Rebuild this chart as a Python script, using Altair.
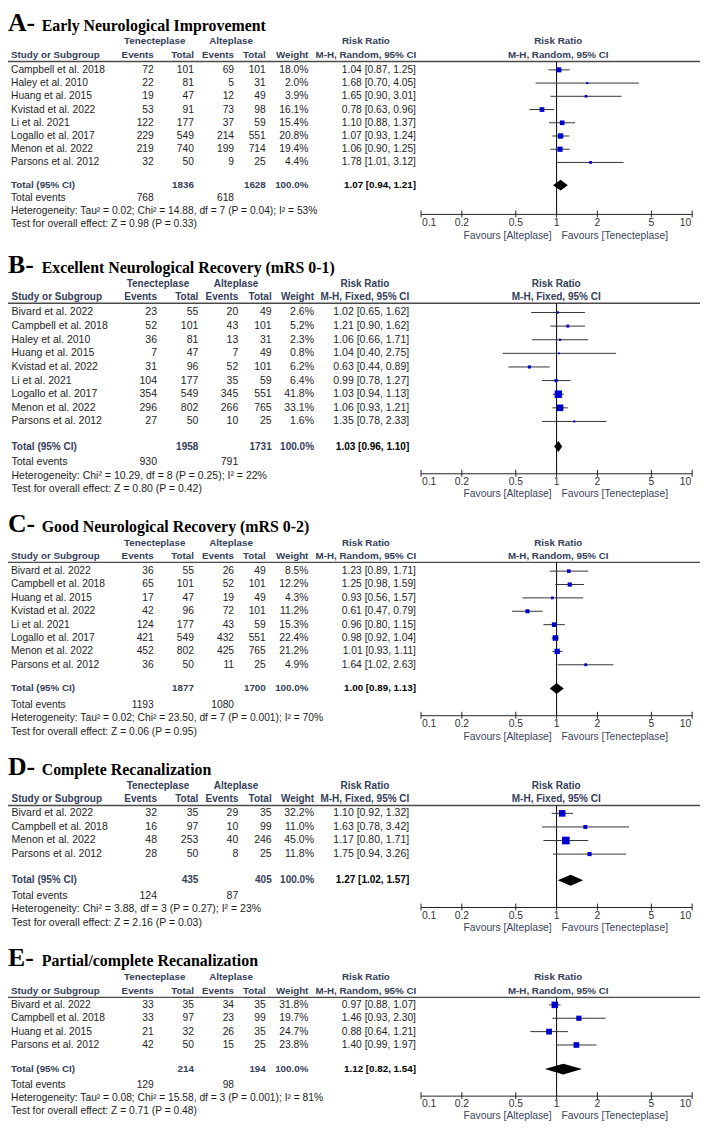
import altair as alt
import pandas as pd

# ---------------- data ----------------
A_studies = ["Campbell et al. 2018", "Haley et al. 2010", "Huang et al. 2015", "Kvistad et al. 2022",
             "Li et al. 2021", "Logallo et al. 2017", "Menon et al. 2022", "Parsons et al. 2012"]
A_te_events = [72, 22, 19, 53, 122, 229, 219, 32]
A_te_total = [101, 81, 47, 91, 177, 549, 740, 50]
A_al_events = [69, 5, 12, 73, 37, 214, 199, 9]
A_al_total = [101, 31, 49, 98, 59, 551, 714, 25]
A_weight = [18.0, 2.0, 3.9, 16.1, 15.4, 20.8, 19.4, 4.4]
A_rr = [1.04, 1.68, 1.65, 0.78, 1.10, 1.07, 1.06, 1.78]
A_lo = [0.87, 0.70, 0.90, 0.63, 0.88, 0.93, 0.90, 1.01]
A_hi = [1.25, 4.05, 3.01, 0.96, 1.37, 1.24, 1.25, 3.12]
A_totals = [1836, 1628]
A_total_events = [768, 618]
A_pooled = [1.07, 0.94, 1.21]
A_het = "Heterogeneity: Tau² = 0.02; Chi² = 14.88, df = 7 (P = 0.04); I² = 53%"
A_test = "Test for overall effect: Z = 0.98 (P = 0.33)"

B_studies = ["Bivard et al. 2022", "Campbell et al. 2018", "Haley et al. 2010", "Huang et al. 2015",
             "Kvistad et al. 2022", "Li et al. 2021", "Logallo et al. 2017", "Menon et al. 2022",
             "Parsons et al. 2012"]
B_te_events = [23, 52, 36, 7, 31, 104, 354, 296, 27]
B_te_total = [55, 101, 81, 47, 96, 177, 549, 802, 50]
B_al_events = [20, 43, 13, 7, 52, 35, 345, 266, 10]
B_al_total = [49, 101, 31, 49, 101, 59, 551, 765, 25]
B_weight = [2.6, 5.2, 2.3, 0.8, 6.2, 6.4, 41.8, 33.1, 1.6]
B_rr = [1.02, 1.21, 1.06, 1.04, 0.63, 0.99, 1.03, 1.06, 1.35]
B_lo = [0.65, 0.90, 0.66, 0.40, 0.44, 0.78, 0.94, 0.93, 0.78]
B_hi = [1.62, 1.62, 1.71, 2.75, 0.89, 1.27, 1.13, 1.21, 2.33]
B_totals = [1958, 1731]
B_total_events = [930, 791]
B_pooled = [1.03, 0.96, 1.10]
B_het = "Heterogeneity: Chi² = 10.29, df = 8 (P = 0.25); I² = 22%"
B_test = "Test for overall effect: Z = 0.80 (P = 0.42)"

C_studies = ["Bivard et al. 2022", "Campbell et al. 2018", "Huang et al. 2015", "Kvistad et al. 2022",
             "Li et al. 2021", "Logallo et al. 2017", "Menon et al. 2022", "Parsons et al. 2012"]
C_te_events = [36, 65, 17, 42, 124, 421, 452, 36]
C_te_total = [55, 101, 47, 96, 177, 549, 802, 50]
C_al_events = [26, 52, 19, 72, 43, 432, 425, 11]
C_al_total = [49, 101, 49, 101, 59, 551, 765, 25]
C_weight = [8.5, 12.2, 4.3, 11.2, 15.3, 22.4, 21.2, 4.9]
C_rr = [1.23, 1.25, 0.93, 0.61, 0.96, 0.98, 1.01, 1.64]
C_lo = [0.89, 0.98, 0.56, 0.47, 0.80, 0.92, 0.93, 1.02]
C_hi = [1.71, 1.59, 1.57, 0.79, 1.15, 1.04, 1.11, 2.63]
C_totals = [1877, 1700]
C_total_events = [1193, 1080]
C_pooled = [1.00, 0.89, 1.13]
C_het = "Heterogeneity: Tau² = 0.02; Chi² = 23.50, df = 7 (P = 0.001); I² = 70%"
C_test = "Test for overall effect: Z = 0.06 (P = 0.95)"

D_studies = ["Bivard et al. 2022", "Campbell et al. 2018", "Menon et al. 2022", "Parsons et al. 2012"]
D_te_events = [32, 16, 48, 28]
D_te_total = [35, 97, 253, 50]
D_al_events = [29, 10, 40, 8]
D_al_total = [35, 99, 246, 25]
D_weight = [32.2, 11.0, 45.0, 11.8]
D_rr = [1.10, 1.63, 1.17, 1.75]
D_lo = [0.92, 0.78, 0.80, 0.94]
D_hi = [1.32, 3.42, 1.71, 3.26]
D_totals = [435, 405]
D_total_events = [124, 87]
D_pooled = [1.27, 1.02, 1.57]
D_het = "Heterogeneity: Chi² = 3.88, df = 3 (P = 0.27); I² = 23%"
D_test = "Test for overall effect: Z = 2.16 (P = 0.03)"

E_studies = ["Bivard et al. 2022", "Campbell et al. 2018", "Huang et al. 2015", "Parsons et al. 2012"]
E_te_events = [33, 33, 21, 42]
E_te_total = [35, 97, 32, 50]
E_al_events = [34, 23, 26, 15]
E_al_total = [35, 99, 35, 25]
E_weight = [31.8, 19.7, 24.7, 23.8]
E_rr = [0.97, 1.46, 0.88, 1.40]
E_lo = [0.88, 0.93, 0.64, 0.99]
E_hi = [1.07, 2.30, 1.21, 1.97]
E_totals = [214, 194]
E_total_events = [129, 98]
E_pooled = [1.12, 0.82, 1.54]
E_het = "Heterogeneity: Tau² = 0.08; Chi² = 15.58, df = 3 (P = 0.001); I² = 81%"
E_test = "Test for overall effect: Z = 0.71 (P = 0.48)"

TICKS = [0.1, 0.2, 0.5, 1, 2, 5, 10]
TICK_LABELS = ["0.1", "0.2", "0.5", "1", "2", "5", "10"]

PANELS = [
    dict(letter="A-", title="Early Neurological Improvement", model="Random", studies=A_studies,
         te_ev=A_te_events, te_tot=A_te_total, al_ev=A_al_events, al_tot=A_al_total, w=A_weight,
         rr=A_rr, lo=A_lo, hi=A_hi, tot=A_totals, tev=A_total_events, pooled=A_pooled, het=A_het, test=A_test),
    dict(letter="B-", title="Excellent Neurological Recovery (mRS 0-1)", model="Fixed", studies=B_studies,
         te_ev=B_te_events, te_tot=B_te_total, al_ev=B_al_events, al_tot=B_al_total, w=B_weight,
         rr=B_rr, lo=B_lo, hi=B_hi, tot=B_totals, tev=B_total_events, pooled=B_pooled, het=B_het, test=B_test),
    dict(letter="C-", title="Good Neurological Recovery (mRS 0-2)", model="Random", studies=C_studies,
         te_ev=C_te_events, te_tot=C_te_total, al_ev=C_al_events, al_tot=C_al_total, w=C_weight,
         rr=C_rr, lo=C_lo, hi=C_hi, tot=C_totals, tev=C_total_events, pooled=C_pooled, het=C_het, test=C_test),
    dict(letter="D-", title="Complete Recanalization", model="Fixed", studies=D_studies,
         te_ev=D_te_events, te_tot=D_te_total, al_ev=D_al_events, al_tot=D_al_total, w=D_weight,
         rr=D_rr, lo=D_lo, hi=D_hi, tot=D_totals, tev=D_total_events, pooled=D_pooled, het=D_het, test=D_test),
    dict(letter="E-", title="Partial/complete Recanalization", model="Random", studies=E_studies,
         te_ev=E_te_events, te_tot=E_te_total, al_ev=E_al_events, al_tot=E_al_total, w=E_weight,
         rr=E_rr, lo=E_lo, hi=E_hi, tot=E_totals, tev=E_total_events, pooled=E_pooled, het=E_het, test=E_test),
]

# ---------------- layout (vertical positions per panel, in reference pixels) ----------------
LAYOUT = [
    dict(cols=1, title=26, h1=37, h2=51, sep=57.5, row0=66, step=13.45, total=183.3, tev=196.3,
         het=209.3, test=222.7, axis=213, labels=221.5, fav=234.5),
    dict(cols=2, title=272.5, h1=283.7, h2=297.3, sep=303.3, row0=312.7, step=13.85, total=449, tev=465,
         het=479, test=492.3, axis=476.7, labels=485, fav=497.7),
    dict(cols=1, title=536, h1=547, h2=560.3, sep=566.7, row0=575.7, step=13.6, total=695, tev=712,
         het=725.3, test=739.3, axis=722.7, labels=731, fav=744),
    dict(cols=2, title=783, h1=794, h2=807.7, sep=814, row0=822, step=13.8, total=890, tev=906,
         het=919.3, test=933.3, axis=917.7, labels=926.7, fav=938.3),
    dict(cols=1, title=977, h1=988.3, h2=1002.3, sep=1009, row0=1016.7, step=13.6, total=1082, tev=1098,
         het=1111.5, test=1125, axis=1109.5, labels=1118, fav=1130),
]

COLS = {
    1: dict(name=3, te_ev=147, te_tot=187.5, al_ev=228, al_tot=260, w=303, rr=411.5,
            te_hdr=148, al_hdr=225, rr_hdr=361, fr_hdr=555, reg=10.35, bold=9.9),
    2: dict(name=3.5, te_ev=150.3, te_tot=192, al_ev=232.3, al_tot=266, w=308.7, rr=404.7,
            te_hdr=151.3, al_hdr=230, rr_hdr=360, fr_hdr=553, reg=10.6, bold=10.1),
}

W, H = 698, 1119
FONT = "Liberation Sans"
SERIF = "Liberation Serif"
DARK = "#1e1e1e"
HDR = "#34405a"
FAV = "#3a465c"
BLUE = "#0000CC"

yscale = alt.Scale(domain=[8, 1136], range=[0, H], nice=False, zero=False)
xscale = alt.Scale(type="log", domain=[0.1, 10], range=[416.6, 690.1], nice=False)


def Y(f="y"):
    return alt.Y(f"{f}:Q", scale=yscale, axis=None)


def X(f):
    return alt.X(f"{f}:Q", scale=xscale, axis=None)


records = {}


def add(L, col, align, bold, color, y, text):
    records.setdefault((L, col, align, bold, color), []).append({"y": y, "text": str(text)})


title_letters, title_texts = [], []
ci_rows, sq_rows, dia_rows, vline_rows, axis_rows = [], [], [], [], []
tick_rows, ticklab_rows, fav_rows, sep_rows = [], [], [], []

for k, (p, lay) in enumerate(zip(PANELS, LAYOUT)):
    L = lay["cols"]
    title_letters.append({"y": lay["title"], "text": p["letter"]})
    title_texts.append({"y": lay["title"], "text": p["title"]})
    add(L, "te_hdr", "center", True, HDR, lay["h1"], "Tenecteplase")
    add(L, "al_hdr", "center", True, HDR, lay["h1"], "Alteplase")
    add(L, "rr_hdr", "center", True, HDR, lay["h1"], "Risk Ratio")
    add(L, "fr_hdr", "center", True, HDR, lay["h1"], "Risk Ratio")
    add(L, "name", "left", True, HDR, lay["h2"], "Study or Subgroup")
    add(L, "te_ev", "right", True, HDR, lay["h2"], "Events")
    add(L, "te_tot", "right", True, HDR, lay["h2"], "Total")
    add(L, "al_ev", "right", True, HDR, lay["h2"], "Events")
    add(L, "al_tot", "right", True, HDR, lay["h2"], "Total")
    add(L, "w", "right", True, HDR, lay["h2"], "Weight")
    mh = f"M-H, {p['model']}, 95% CI"
    add(L, "rr_hdr", "center", True, HDR, lay["h2"], mh)
    add(L, "fr_hdr", "center", True, HDR, lay["h2"], mh)
    sep_rows.append({"y": lay["sep"]})

    for i, s in enumerate(p["studies"]):
        y = lay["row0"] + i * lay["step"]
        add(L, "name", "left", False, DARK, y, s)
        add(L, "te_ev", "right", False, DARK, y, p["te_ev"][i])
        add(L, "te_tot", "right", False, DARK, y, p["te_tot"][i])
        add(L, "al_ev", "right", False, DARK, y, p["al_ev"][i])
        add(L, "al_tot", "right", False, DARK, y, p["al_tot"][i])
        add(L, "w", "right", False, DARK, y, f"{p['w'][i]:.1f}%")
        add(L, "rr", "right", False, DARK, y, f"{p['rr'][i]:.2f} [{p['lo'][i]:.2f}, {p['hi'][i]:.2f}]")
        ci_rows.append({"y": y, "lo": p["lo"][i], "hi": p["hi"][i]})
        sq_rows.append({"y": y, "rr": p["rr"][i], "weight": p["w"][i]})

    yt = lay["total"]
    est, plo, phi = p["pooled"]
    add(L, "name", "left", True, HDR, yt, "Total (95% CI)")
    add(L, "te_tot", "right", True, HDR, yt, p["tot"][0])
    add(L, "al_tot", "right", True, HDR, yt, p["tot"][1])
    add(L, "w", "right", True, HDR, yt, "100.0%")
    add(L, "rr", "right", True, "#000000", yt, f"{est:.2f} [{plo:.2f}, {phi:.2f}]")
    add(L, "name", "left", False, DARK, lay["tev"], "Total events")
    add(L, "te_ev", "right", False, DARK, lay["tev"], p["tev"][0])
    add(L, "al_ev", "right", False, DARK, lay["tev"], p["tev"][1])
    add(L, "name", "left", False, DARK, lay["het"], p["het"])
    add(L, "name", "left", False, DARK, lay["test"], p["test"])

    dia_rows += [
        {"panel": k, "x": plo, "y": yt, "y2": yt},
        {"panel": k, "x": est, "y": yt - 5.5, "y2": yt + 5.5},
        {"panel": k, "x": phi, "y": yt, "y2": yt},
    ]
    vline_rows.append({"one": 1, "y": lay["sep"], "y2": lay["axis"]})
    axis_rows.append({"lo": TICKS[0], "hi": TICKS[-1], "y": lay["axis"]})
    for j, (t, lab) in enumerate(zip(TICKS, TICK_LABELS)):
        tick_rows.append({"t": t, "y": lay["axis"] - 4, "y2": lay["axis"] + 3})
        pos = "first" if j == 0 else ("last" if j == len(TICKS) - 1 else "mid")
        ticklab_rows.append({"t": t, "y": lay["labels"], "text": lab, "pos": pos})
    fav_rows.append({"one": 1, "y": lay["fav"]})

layers = []

# titles
layers.append(alt.Chart(pd.DataFrame(title_letters)).mark_text(
    align="left", baseline="alphabetic", font=SERIF, fontSize=26, fontWeight="bold", color="#000000"
).encode(x=alt.value(0), y=Y(), text="text:N"))
layers.append(alt.Chart(pd.DataFrame(title_texts)).mark_text(
    align="left", baseline="alphabetic", font=SERIF, fontSize=16, fontWeight="bold", color="#000000"
).encode(x=alt.value(34), y=Y(), text="text:N"))

# table text
for (L, col, align, bold, color), rows in records.items():
    c = COLS[L]
    layers.append(alt.Chart(pd.DataFrame(rows)).mark_text(
        align=align, baseline="middle", font=FONT,
        fontSize=c["bold"] if bold else c["reg"],
        fontWeight="bold" if bold else "normal", color=color
    ).encode(x=alt.value(c[col]), y=Y(), text="text:N"))

# separator lines
layers.append(alt.Chart(pd.DataFrame(sep_rows)).mark_rule(color="#4a4a4a", strokeWidth=1.3).encode(
    x=alt.value(0), x2=alt.value(W), y=Y()))

# forest plot
layers.append(alt.Chart(pd.DataFrame(vline_rows)).mark_rule(color="#000000", strokeWidth=1).encode(
    x=X("one"), y=Y(), y2="y2:Q"))
layers.append(alt.Chart(pd.DataFrame(ci_rows)).mark_rule(color="#333333", strokeWidth=1).encode(
    x=X("lo"), x2="hi:Q", y=Y()))
layers.append(alt.Chart(pd.DataFrame(sq_rows)).mark_square(color=BLUE, filled=True, opacity=1).encode(
    x=X("rr"), y=Y(),
    size=alt.Size("weight:Q", scale=alt.Scale(domain=[0, 50], range=[2, 67]), legend=None)))
layers.append(alt.Chart(pd.DataFrame(dia_rows)).mark_area(color="#000000", opacity=1).encode(
    x=X("x"), y=Y(), y2="y2:Q", detail="panel:N"))
layers.append(alt.Chart(pd.DataFrame(axis_rows)).mark_rule(color="#222222", strokeWidth=1).encode(
    x=X("lo"), x2="hi:Q", y=Y()))
layers.append(alt.Chart(pd.DataFrame(tick_rows)).mark_rule(color="#222222", strokeWidth=1).encode(
    x=X("t"), y=Y(), y2="y2:Q"))
tl = pd.DataFrame(ticklab_rows)
for pos, align, dx in [("first", "left", 1), ("mid", "center", 0), ("last", "right", -1)]:
    layers.append(alt.Chart(tl[tl["pos"] == pos]).mark_text(
        align=align, baseline="middle", font=FONT, fontSize=10.4, color="#333333", dx=dx
    ).encode(x=X("t"), y=Y(), text="text:N"))
fav = pd.DataFrame(fav_rows)
layers.append(alt.Chart(fav).mark_text(
    align="right", baseline="middle", font=FONT, fontSize=10.4, color=FAV, dx=-5, text="Favours [Alteplase]"
).encode(x=X("one"), y=Y()))
layers.append(alt.Chart(fav).mark_text(
    align="left", baseline="middle", font=FONT, fontSize=10.4, color=FAV, dx=5, text="Favours [Tenecteplase]"
).encode(x=X("one"), y=Y()))

chart = alt.layer(*layers).properties(
    width=W, height=H, padding=0, autosize=alt.AutoSizeParams(type="none"), background="white"
).configure_view(stroke=None)

chart.save("out.html", embed_options={"renderer": "svg", "actions": False})
